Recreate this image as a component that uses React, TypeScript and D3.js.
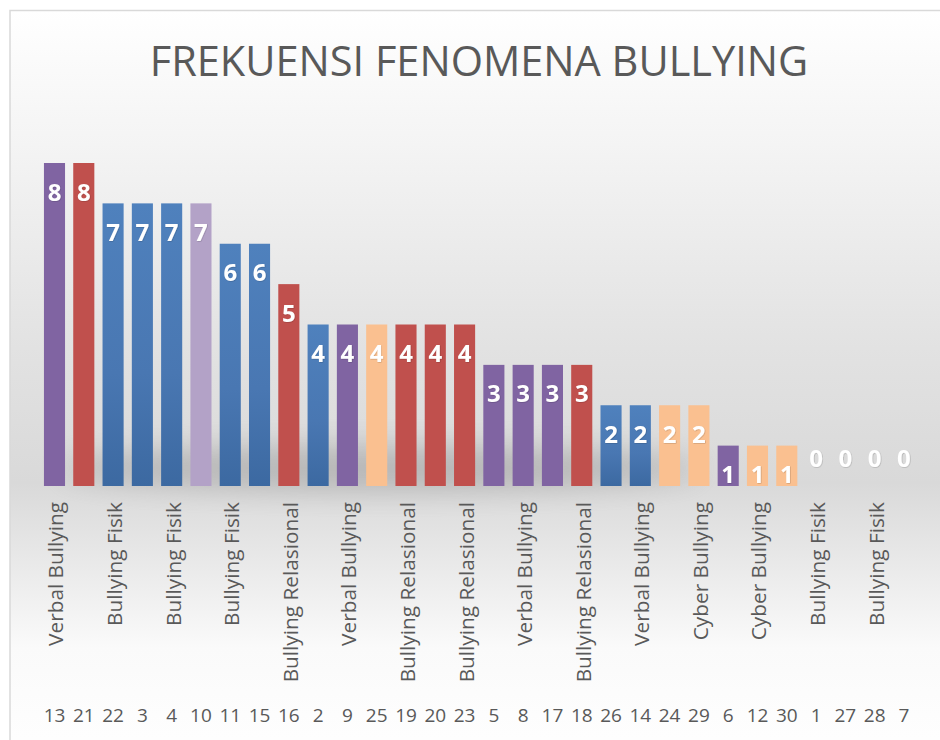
import React from "react";
import * as d3 from "d3";

const categories = ["13","21","22","3","4","10","11","15","16","2","9","25","19","20","23","5","8","17","18","26","14","24","29","6","12","30","1","27","28","7"];
const values = [8,8,7,7,7,7,6,6,5,4,4,4,4,4,4,3,3,3,3,2,2,2,2,1,1,1,0,0,0,0];
const typeLabels = [
  "Verbal Bullying","Bullying Relasional","Bullying Fisik","Bullying Fisik","Bullying Fisik","Verbal Bullying",
  "Bullying Fisik","Bullying Fisik","Bullying Relasional","Bullying Fisik","Verbal Bullying","Cyber Bullying",
  "Bullying Relasional","Bullying Relasional","Bullying Relasional","Verbal Bullying","Verbal Bullying","Verbal Bullying",
  "Bullying Relasional","Bullying Fisik","Verbal Bullying","Cyber Bullying","Cyber Bullying","Verbal Bullying",
  "Cyber Bullying","Cyber Bullying","Bullying Fisik","Bullying Fisik","Bullying Fisik","Bullying Fisik"
];
const colorGroups = ["purple","red","blue","blue","blue","lilac","blue","blue","red","blue","purple","peach","red","red","red","purple","purple","purple","red","blue","blue","peach","peach","purple","peach","peach","blue","blue","blue","blue"];
const title = "FREKUENSI FENOMENA BULLYING";

const palette: Record<string, string> = {
  purple: "#8064A2",
  red: "#C0504D",
  blue: "url(#blueGrad)",
  lilac: "#B3A2C7",
  peach: "#FAC090",
};

export default function App() {
  const W = 940, H = 740;
  const x = d3.scaleBand<string>().domain(categories).range([39.85, 918.6]).paddingInner(0.28).paddingOuter(0.14);
  const y = d3.scaleLinear().domain([0, 8]).range([486, 163]);
  const font = "'Open Sans', 'Noto Sans', sans-serif";
  return (
    <svg width={W} height={H} style={{ position: "absolute", left: 0, top: 0 }}>
      <defs>
        <linearGradient id="bg" x1="0" y1="10" x2="0" y2="760" gradientUnits="userSpaceOnUse">
          <stop offset="0" stopColor="#ffffff" />
          <stop offset="0.18" stopColor="#f4f4f4" />
          <stop offset="0.45" stopColor="#e2e2e2" />
          <stop offset="0.63" stopColor="#d9d9d9" />
          <stop offset="0.85" stopColor="#fafafa" />
          <stop offset="1" stopColor="#ffffff" />
        </linearGradient>
        <linearGradient id="blueGrad" x1="0" y1="0" x2="0" y2="1">
          <stop offset="0" stopColor="#4F81BD" />
          <stop offset="0.6" stopColor="#4977B2" />
          <stop offset="1" stopColor="#3C69A1" />
        </linearGradient>
        <filter id="blur" x="-50%" y="-200%" width="200%" height="500%">
          <feGaussianBlur stdDeviation="14" />
        </filter>
        <filter id="tshadow" x="-50%" y="-50%" width="200%" height="200%">
          <feDropShadow dx="0.5" dy="0.5" stdDeviation="0.6" floodColor="#000" floodOpacity="0.25" />
        </filter>
      </defs>
      <rect x={0} y={0} width={W} height={H} fill="#ffffff" />
      <rect x={10} y={10.5} width={W} height={H} fill="url(#bg)" stroke="#d9d9d9" strokeWidth={1.5} />
      <ellipse cx={380} cy={468} rx={320} ry={22} fill="#8c8c8c" opacity={0.45} filter="url(#blur)" />
      <text x={479} y={76} textAnchor="middle" fontFamily={font} fontSize={41.5} fill="#595959">{title}</text>
      <g>
        {categories.map((c, i) => {
          const v = values[i];
          const bx = x(c)!;
          const bw = x.bandwidth();
          const top = y(v);
          return (
            <g key={c}>
              {v > 0 && (
                <rect x={bx} y={top} width={bw} height={y(0) - top} fill={palette[colorGroups[i]]} />
              )}
              <text
                x={bx + bw / 2}
                y={v > 0 ? top + 37.5 : y(0) - 19.5}
                textAnchor="middle"
                fontFamily={font}
                fontWeight={700}
                fontSize={24}
                fill="#ffffff"
                filter="url(#tshadow)"
              >
                {v}
              </text>
            </g>
          );
        })}
      </g>
      <g>
        {categories.map((c, i) =>
          i % 2 === 0 ? (
            <text
              key={"t" + c}
              transform={`translate(${x(c)! + x.bandwidth() / 2 + 1},502) rotate(-90)`}
              textAnchor="end"
              dominantBaseline="central"
              fontFamily={font}
              fontSize={20.8}
              fill="#595959"
            >
              {typeLabels[i]}
            </text>
          ) : null
        )}
      </g>
      <g>
        {categories.map((c) => (
          <text
            key={"n" + c}
            x={x(c)! + x.bandwidth() / 2}
            y={722}
            textAnchor="middle"
            fontFamily={font}
            fontSize={19}
            fill="#595959"
          >
            {c}
          </text>
        ))}
      </g>
    </svg>
  );
}
